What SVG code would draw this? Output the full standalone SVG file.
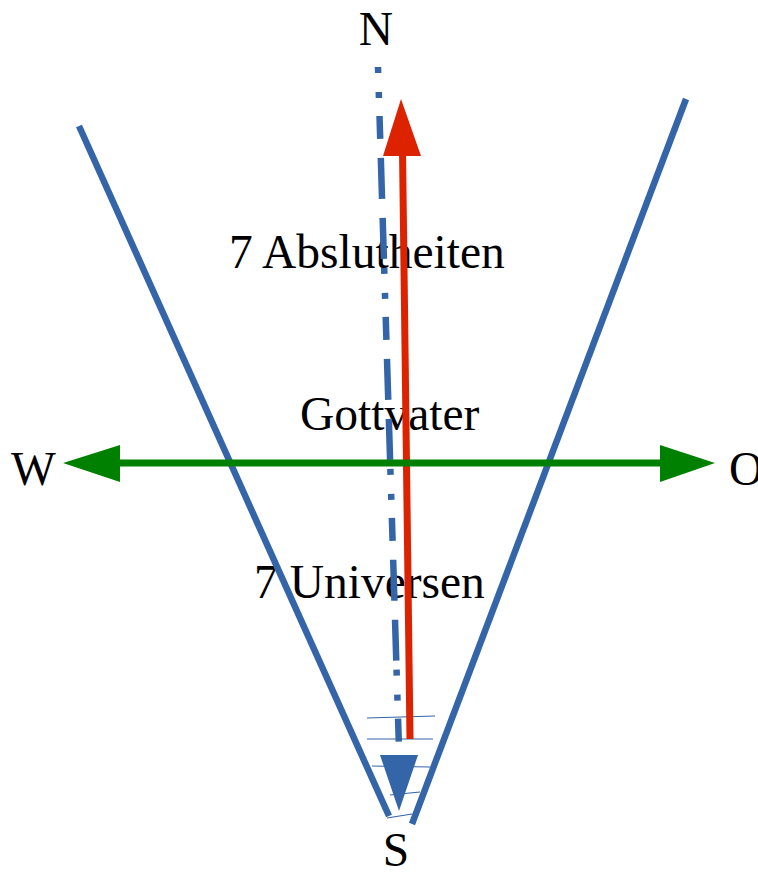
<svg xmlns="http://www.w3.org/2000/svg" width="758" height="876" viewBox="0 0 758 876">
<style>
.t{font-family:"Liberation Serif","Times New Roman",serif;font-size:47.5px;fill:#000}
.v{stroke:#3465a8;stroke-width:6.5;fill:none}
.h{stroke:#3465a8;stroke-width:1.2;fill:none}
</style>
<rect width="758" height="876" fill="#fff"/>
<g id="labels">
<text class="t" x="376" y="45" text-anchor="middle">N</text>
<text class="t" x="396" y="866" text-anchor="middle">S</text>
<text class="t" x="11" y="485">W</text>
<text class="t" x="729" y="485">O</text>
<text class="t" x="229" y="268">7 Abslutheiten</text>
<text class="t" x="300" y="430">Gottvater</text>
<text class="t" x="254" y="598">7 Universen</text>
</g>
<g id="connectors">
<line class="v" x1="79" y1="126" x2="389" y2="816"/>
<line class="v" x1="686" y1="99" x2="412" y2="824"/>
<line class="h" x1="367" y1="718" x2="435" y2="716"/>
<line class="h" x1="367" y1="739" x2="433" y2="739"/>
<line class="h" x1="372" y1="766" x2="430" y2="767"/>
<line class="h" x1="390" y1="795" x2="420" y2="792"/>
<line class="h" x1="387" y1="818" x2="412" y2="814"/>
<line x1="378" y1="67" x2="399" y2="749" stroke="#3465a8" stroke-width="6.5" stroke-dasharray="6 19 6 18 23 19 41 19 41 9"/>
<polygon points="380,755 418,755 399,811" fill="#3465a8"/>
<line x1="410" y1="739" x2="402.5" y2="150" stroke="#dd2200" stroke-width="7"/>
<polygon points="383,156 421,156 401,99" fill="#dd2200"/>
<line x1="115" y1="463" x2="665" y2="463" stroke="#008000" stroke-width="7"/>
<polygon points="63,463 120,445 120,482" fill="#008000"/>
<polygon points="715,463 660,445 660,482" fill="#008000"/>
</g>
</svg>
